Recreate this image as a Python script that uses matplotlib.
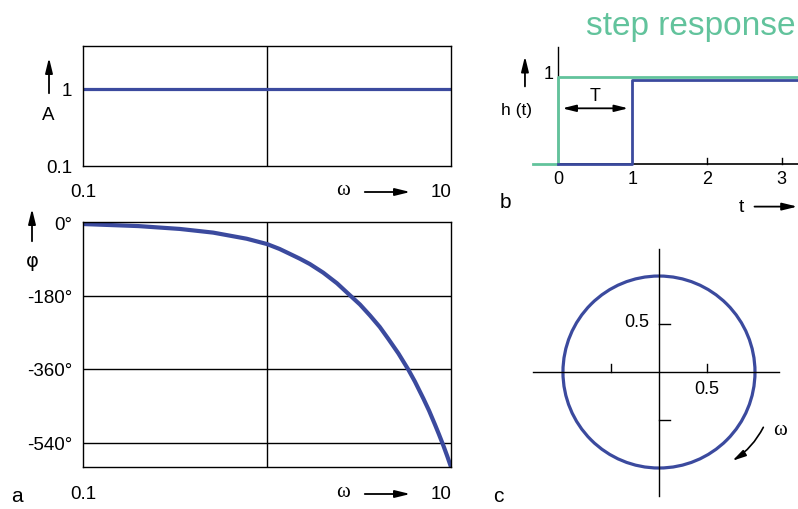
import numpy as np
import matplotlib
matplotlib.use("Agg")
import matplotlib.pyplot as plt
from matplotlib.patches import Circle

plt.rcParams["font.family"] = ["Liberation Sans", "DejaVu Sans"]

W, H = 798, 510

BLUE = "#3b4a9e"
GREEN = "#62c39c"

# magnitude (dead time: constant 1)
mag_w = [0.1, 10]
mag_a = [1.0, 1.0]

# phase
phase_w = [0.1, 0.2, 0.336, 0.51, 0.776, 1.0, 1.17, 1.33, 1.51, 1.71, 2.02,
           2.4, 2.77, 3.2, 3.63, 4.1, 4.56, 5.18, 5.87, 6.37, 7.07, 7.6,
           8.18, 8.6, 9.08, 9.55, 10.0]
phase_deg = [-5, -10, -17, -26, -41, -54, -66, -78, -90, -103, -124,
             -150, -176, -202, -229, -257, -286, -322, -362, -391, -432, -462,
             -496, -520, -547, -574, -600]
phase_ticks = [0, -180, -360, -540]
phase_labels = ["0°", "-180°", "-360°", "-540°"]

# step response
step_t_in = [-0.33, 0, 0, 3.4]
step_h_in = [0, 0, 1, 1]
step_t_out = [0, 1, 1, 3.4]
step_h_out = [0, 0, 0.97, 0.97]
step_ticks = [0, 1, 2, 3]

# nyquist locus
nyq_radius = 1.0
nyq_ticks = [-0.5, 0.5]


def box(l, t, r, b):
    return [l / W, 1 - b / H, (r - l) / W, (b - t) / H]


fig = plt.figure(figsize=(W / 100, H / 100), dpi=100)

# ---- a: magnitude
ax_a = fig.add_axes(box(83, 47, 451, 167))
ax_a.set_xscale("log")
ax_a.set_yscale("log")
ax_a.set_xlim(0.1, 10)
ax_a.set_ylim(0.1, 3.6)
ax_a.axvline(1, color="k", lw=1.0)
ax_a.plot(mag_w, mag_a, color=BLUE, lw=2.3)
ax_a.tick_params(which="both", length=0, labelbottom=False)
ax_a.yaxis.set_minor_locator(matplotlib.ticker.NullLocator())
ax_a.set_yticks([0.1, 1], ["0.1", "1"], fontsize=13.5)
ax_a.tick_params(axis="y", pad=8)
for s in ax_a.spines.values():
    s.set_linewidth(1.0)

# ---- a: phase
ax_p = fig.add_axes(box(83, 223, 451, 468))
ax_p.set_xscale("log")
ax_p.set_xlim(0.1, 10)
ax_p.set_ylim(-600, 0)
ax_p.axvline(1, color="k", lw=1.0)
for v in phase_ticks[1:]:
    ax_p.axhline(v, color="k", lw=1.0)
ax_p.plot(phase_w, phase_deg, color=BLUE, lw=3.0, solid_capstyle="round",
          solid_joinstyle="round")
ax_p.tick_params(which="both", length=0, labelbottom=False)
ax_p.set_yticks(phase_ticks, phase_labels, fontsize=13.5)
ax_p.tick_params(axis="y", pad=8)
for s in ax_p.spines.values():
    s.set_linewidth(1.0)

# ---- overlay for labels of the left panels
ov = fig.add_axes([0, 0, 1, 1])
ov.set_xlim(0, W)
ov.set_ylim(H, 0)
ov.axis("off")
arr = dict(arrowstyle="-|>,head_width=0.22,head_length=0.9", color="k", lw=1.3)
ov.annotate("", xy=(49, 56), xytext=(49, 97), arrowprops=arr)
ov.text(48, 115, "A", fontsize=13.5, ha="center", va="center")
ov.annotate("", xy=(32, 207), xytext=(32, 245), arrowprops=arr)
ov.text(32, 262, "φ", fontsize=14, ha="center", va="center", family="DejaVu Sans")
for y in (193, 495):
    ov.text(83, y, "0.1", fontsize=13.5, ha="center", va="center")
    ov.text(452, y, "10", fontsize=13.5, ha="right", va="center")
    ov.text(343, y - 2, "ω", fontsize=15, ha="center", va="center",
            family="Liberation Serif")
    ov.annotate("", xy=(413, y), xytext=(362, y), arrowprops=arr)
ov.text(17, 497, "a", fontsize=15, ha="center", va="center")

# ---- b: step response
ax_b = fig.add_axes(box(500, 0, 798, 215))
ax_b.set_xlim(-0.778, 3.221)
ax_b.set_ylim(-0.575, 1.897)
ax_b.axis("off")
ax_b.plot([0, 0], [0, 1.345], color="k", lw=1.0)
ax_b.plot([0, 3.3], [0, 0], color="k", lw=1.2)
for t in step_ticks[2:]:
    ax_b.plot([t, t], [0, 0.07], color="k", lw=1.0)
ax_b.plot(step_t_in, step_h_in, color=GREEN, lw=2.0)
ax_b.plot(step_t_out, step_h_out, color=BLUE, lw=2.0)
for t in step_ticks:
    ax_b.text(t, -0.17, str(t), fontsize=13, ha="center", va="center")
ax_b.text(-0.13, 1.04, "1", fontsize=13, ha="center", va="center")
ax_b.annotate("", xy=(-0.443, 1.27), xytext=(-0.443, 0.86), arrowprops=arr)
ax_b.text(-0.55, 0.63, "h (t)", fontsize=12.5, ha="center", va="center")
ax_b.annotate("", xy=(0.02, 0.64), xytext=(0.98, 0.64),
              arrowprops=dict(arrowstyle="<|-|>,head_width=0.2,head_length=0.8",
                              color="k", lw=1.3))
ax_b.text(0.5, 0.79, "T", fontsize=13, ha="center", va="center")
ax_b.text(-0.71, -0.43, "b", fontsize=15, ha="center", va="center")
ax_b.text(2.46, -0.49, "t", fontsize=14, ha="center", va="center")
ax_b.annotate("", xy=(3.25, -0.49), xytext=(2.6, -0.49), arrowprops=arr,
              annotation_clip=False)
fig.text(796 / W, 1 - 27 / H, "step response", fontsize=24, color=GREEN,
         ha="right", va="center")

# ---- c: nyquist
ax_c = fig.add_axes(box(490, 230, 798, 510))
ax_c.set_xlim(-1.76, 1.448)
ax_c.set_ylim(-1.427, 1.49)
ax_c.axis("off")
ax_c.plot([-1.3125, 1.25], [0, 0], color="k", lw=1.0)
ax_c.plot([0, 0], [-1.29, 1.28], color="k", lw=1.0)
for v in nyq_ticks:
    ax_c.plot([v, v], [0, 0.085], color="k", lw=1.0)
    ax_c.plot([0, 0.115], [v, v], color="k", lw=1.0)
ax_c.add_patch(Circle((0, 0), nyq_radius, fill=False, ec=BLUE, lw=2.3))
ax_c.text(-0.23, 0.53, "0.5", fontsize=13, ha="center", va="center")
ax_c.text(0.5, -0.17, "0.5", fontsize=13, ha="center", va="center")
ax_c.annotate("", xy=(0.74, -0.94), xytext=(1.10, -0.55),
              arrowprops=dict(arrowstyle="-|>,head_width=0.2,head_length=0.8",
                              color="k", lw=1.2,
                              connectionstyle="arc3,rad=-0.15"))
ax_c.text(1.26, -0.6, "ω", fontsize=15, ha="center", va="center",
          family="Liberation Serif")
ax_c.text(-1.67, -1.29, "c", fontsize=15, ha="center", va="center")

fig.savefig("out.png", dpi=100)
